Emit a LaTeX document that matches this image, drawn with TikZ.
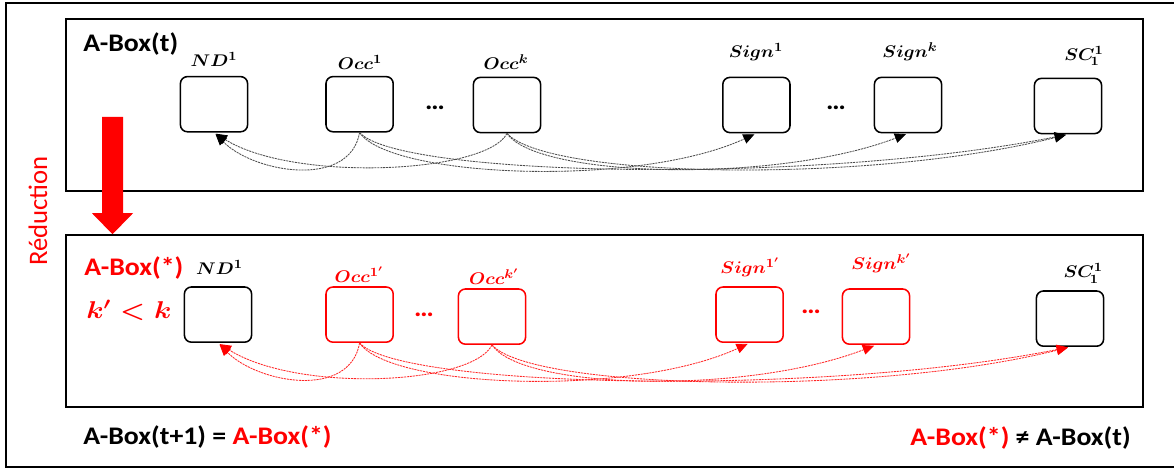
\documentclass[tikz,border=0pt]{standalone}
\usepackage{amsmath}
\usepackage{fontspec}
\setmainfont{Carlito}
\usetikzlibrary{arrows.meta}
\definecolor{abred}{HTML}{FF0000}

\begin{document}
\begin{tikzpicture}[
	panel/.style={draw, line width=1.1pt, inner sep=0pt, minimum width=26.925cm, minimum height=4.3cm},
	slot/.style={draw, rounded corners=5pt, line width=1.1pt, minimum width=1.68cm, minimum height=1.38cm},
	tag/.style={xscale=1.1, inner sep=0pt, anchor=base, font=\fontsize{12.5}{14}\selectfont},
	title/.style={xscale=1.1, inner sep=0pt, font=\fontsize{18}{21}\selectfont\bfseries},
	toplink/.style={line width=0.6pt, black!70, dash pattern=on 1.5pt off 0.6pt, -{Triangle[length=8pt, width=7pt, color=black]}, shorten >=1.5pt},
	botlink/.style={line width=0.6pt, abred!85, dash pattern=on 1.5pt off 0.6pt, -{Triangle[length=8pt, width=7pt, color=abred]}, shorten >=1.5pt}]
	\useasboundingbox (0,0) rectangle (29.35,11.775);
	\draw[line width=1.4pt] (0.15,0.1) rectangle (29.6,11.7);

	% the two A-Boxes
	\node[panel] at (15.1125,9.15) (toppanel) {};
	\node[panel] at (15.1125,3.75) (botpanel) {};

	% A-Box(t)
	\node[title, anchor=west] at (2.075,10.675) (tname) {A-Box(t)};
	\node[slot] at (5.35,9.17) (nd) {};
	\node[slot] at (8.99,9.17) (occa) {};
	\node[slot] at (12.675,9.15) (occk) {};
	\node[slot] at (18.91,9.15) (signa) {};
	\node[slot] at (22.7,9.15) (signk) {};
	\node[slot] at (26.7,9.125) (sc) {};
	\node[tag] at (5.35,10.1) (ndlbl) {$\boldsymbol{ND^1}$};
	\node[tag] at (9.0,10.03) (occalbl) {$\boldsymbol{Occ^1}$};
	\node[tag] at (12.65,10.03) (occklbl) {$\boldsymbol{Occ^k}$};
	\node[tag] at (18.9,10.33) (signalbl) {$\boldsymbol{Sign^1}$};
	\node[tag] at (22.75,10.33) (signklbl) {$\boldsymbol{Sign^k}$};
	\node[tag] at (27.1,10.27) (sclbl) {$\boldsymbol{SC^1_{\!1}}$};
	\node[title, anchor=base] at (10.875,9.025) (dotsa) {…};
	\node[title, anchor=base] at (20.9,9.025) (dotsb) {…};

	\draw[toplink] (occa.south) .. controls +(-100:1.43) and +(-45:1.43) .. (nd.south);
	\draw[toplink] (occk.south) .. controls +(-0.5,-1.0) and +(2.0,-1.25) .. (nd.south);
	\draw[toplink] (occa.south) .. controls +(0.75,-1.125) and +(-3.0,-1.375) .. (signa.south);
	\draw[toplink] (occa.south) .. controls +(1.0,-1.125) and +(-6.25,-1.25) .. (sc.south);
	\draw[toplink] (occk.south) .. controls +(0.75,-1.125) and +(-3.25,-1.25) .. (signk.south);
	\draw[toplink] (occk.south) .. controls +(1.0,-1.125) and +(-5.0,-1.25) .. (sc.south);

	% reduction arrow
	\coordinate (redtop) at (2.8125,8.85);
	\coordinate (redtip) at (redtop |- botpanel.north);
	\fill[abred] ([xshift=-0.2625cm]redtop) -- ([xshift=0.2625cm]redtop) -- ([shift={(0.2625cm,0.525cm)}]redtip)
		-- ([shift={(0.5125cm,0.525cm)}]redtip) -- (redtip) -- ([shift={(-0.5125cm,0.525cm)}]redtip)
		-- ([shift={(-0.2625cm,0.525cm)}]redtip) -- cycle;
	\node[rotate=90, text=abred, inner sep=0pt, font=\fontsize{19}{22}\selectfont] at (0.95,6.5) (redu) {Réduction};

	% A-Box(*)
	\node[title, anchor=west, text=abred] at (2.1,5.075) (sname) {A-Box(*)};
	\node[anchor=west, text=abred, inner sep=0pt, xscale=1.15, font=\fontsize{17}{20}\selectfont] at (2.15,4.025) (kcond) {$\boldsymbol{k' < k}$};
	\node[slot] at (5.45,3.91) (ndb) {};
	\node[slot, draw=abred] at (8.99,3.91) (occab) {};
	\node[slot, draw=abred] at (12.3,3.86) (occkb) {};
	\node[slot, draw=abred] at (18.74,3.91) (signab) {};
	\node[slot, draw=abred] at (21.9,3.86) (signkb) {};
	\node[slot] at (26.75,3.81) (scb) {};
	\node[tag] at (5.49,4.9) (ndblbl) {$\boldsymbol{ND^1}$};
	\node[tag, text=abred] at (8.98,4.7) (occablbl) {$\boldsymbol{Occ^{1'}}$};
	\node[tag, text=abred] at (12.35,4.65) (occkblbl) {$\boldsymbol{Occ^{k'}}$};
	\node[tag, text=abred] at (18.75,4.93) (signablbl) {$\boldsymbol{Sign^{1'}}$};
	\node[tag, text=abred] at (22.03,5.03) (signkblbl) {$\boldsymbol{Sign^{k'}}$};
	\node[tag] at (27.08,4.83) (scblbl) {$\boldsymbol{SC^1_{\!1}}$};
	\node[title, anchor=base, text=abred] at (10.6,3.85) (dotsc) {…};
	\node[title, anchor=base, text=abred] at (20.275,3.925) (dotsd) {…};

	\draw[botlink] (occab.south) .. controls +(-100:1.43) and +(-45:1.43) .. (ndb.south);
	\draw[botlink] (occkb.south) .. controls +(-0.5,-1.0) and +(2.0,-1.25) .. (ndb.south);
	\draw[botlink] (occab.south) .. controls +(0.75,-1.125) and +(-3.0,-1.375) .. (signab.south);
	\draw[botlink] (occab.south) .. controls +(1.0,-1.125) and +(-6.25,-1.25) .. (scb.south);
	\draw[botlink] (occkb.south) .. controls +(0.75,-1.125) and +(-3.25,-1.25) .. (signkb.south);
	\draw[botlink] (occkb.south) .. controls +(1.0,-1.125) and +(-5.0,-1.25) .. (scb.south);

	% equalities
	\node[title, anchor=west] at (2.075,0.85) (eqlbl) {A-Box(t+1) = \textcolor{abred}{A-Box(*)}};
	\node[title, anchor=east] at (28.275,0.825) (neqlbl) {\textcolor{abred}{A-Box(*)} ≠ A-Box(t)};
\end{tikzpicture}
\end{document}
